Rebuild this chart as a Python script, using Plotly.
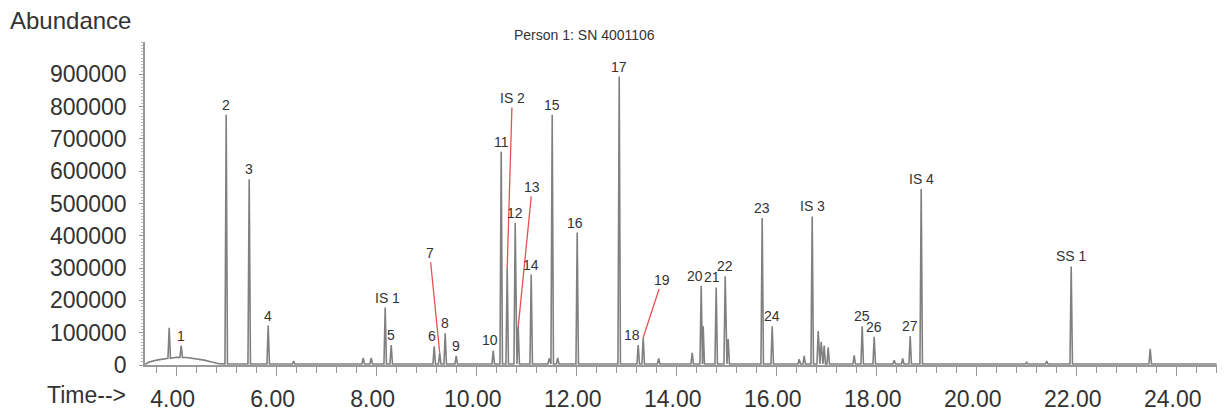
import numpy as np
import plotly.graph_objects as go

# Chromatogram peak table: retention time (min), apex abundance, compound label
peak_times = [3.85, 4.09, 4.99, 5.45, 5.83, 6.34, 7.73, 7.89, 8.17, 8.29,
              9.15, 9.26, 9.37, 9.59, 10.33, 10.49, 10.61, 10.77, 10.83, 11.09,
              11.45, 11.51, 11.62, 12.01, 12.85, 13.23, 13.33, 13.64, 14.31, 14.49,
              14.53, 14.79, 14.97, 15.03, 15.71, 15.91, 16.45, 16.55, 16.71, 16.83,
              16.89, 16.95, 17.03, 17.55, 17.71, 17.95, 18.35, 18.52, 18.67, 18.89,
              21.00, 21.40, 21.89, 23.47]
peak_heights = [115000, 60000, 775000, 575000, 122000, 12000, 22000, 22000, 178000, 62000,
                58000, 38000, 98000, 28000, 45000, 660000, 300000, 440000, 118000, 280000,
                20000, 775000, 22000, 410000, 893000, 62000, 85000, 20000, 38000, 245000,
                120000, 240000, 275000, 80000, 455000, 120000, 18000, 28000, 460000, 105000,
                72000, 60000, 55000, 30000, 120000, 87000, 15000, 20000, 90000, 545000,
                8000, 12000, 305000, 50000]
peak_names = ["", "1", "2", "3", "4", "", "", "", "IS 1", "5",
              "6", "7", "8", "9", "10", "11", "IS 2", "12", "13", "14",
              "", "15", "", "16", "17", "18", "19", "", "", "20",
              "", "21", "22", "", "23", "24", "", "", "IS 3", "",
              "", "", "", "", "25", "26", "", "", "27", "IS 4",
              "", "", "SS 1", ""]

# Baseline drift of the run (solvent hump at the start, then flat)
baseline_times = [3.37, 3.45, 3.60, 3.80, 4.00, 4.20, 4.40, 4.55, 4.70, 4.85, 5.20, 24.80]
baseline_values = [2000, 9000, 15000, 20000, 24000, 23000, 19000, 15000, 9000, 4000, 3000, 3000]

# Abundance axis tick values
y_ticks = [0, 100000, 200000, 300000, 400000, 500000, 600000, 700000, 800000, 900000]

title_text = "Person 1: SN 4001106"

# Peak labels tied to a red leader line: (dx, dy) pixel offset of the label
leader_offsets = {"7": (-10, -100), "IS 2": (5, -170), "13": (14, -140), "19": (19, -58)}
# Small horizontal nudges for crowded labels
label_nudge = {"20": -6, "21": -4, "18": -6, "10": -3, "6": -2, "16": -2, "IS 1": 2}

FONT = "Liberation Sans, Arial, Helvetica, sans-serif"
TRACE = "#808080"
TEXT = "#333333"

# Build the trace: baseline with a narrow spike at each retention time
half_w = 0.025
t_pts = list(baseline_times)
v_pts = list(baseline_values)
for t, h in zip(peak_times, peak_heights):
    b = float(np.interp(t, baseline_times, baseline_values))
    t_pts += [t - half_w, t, t + half_w]
    v_pts += [b, max(h, b), b]
order = np.argsort(t_pts, kind="stable")
t_arr = np.array(t_pts)[order]
v_arr = np.array(v_pts)[order]

fig = go.Figure()
fig.add_trace(go.Scatter(x=t_arr, y=v_arr, mode="lines",
                         line=dict(color=TRACE, width=1.6), hoverinfo="skip"))

annotations = []
for t, h, name in zip(peak_times, peak_heights, peak_names):
    if not name:
        continue
    if name in leader_offsets:
        dx, dy = leader_offsets[name]
        annotations.append(dict(x=t, y=h, xref="x", yref="y", text=name,
                                showarrow=True, arrowhead=0, arrowwidth=1.3,
                                arrowcolor="#e8504f", ax=dx, ay=dy, standoff=0,
                                font=dict(family=FONT, size=14, color=TEXT)))
    else:
        annotations.append(dict(x=t, y=h, xref="x", yref="y", text=name,
                                showarrow=False, yanchor="bottom", yshift=0,
                                xshift=label_nudge.get(name, 0),
                                font=dict(family=FONT, size=14, color=TEXT)))

annotations.append(dict(x=-0.128, y=1.068, xref="paper", yref="paper", text="Abundance",
                        showarrow=False, xanchor="left", yanchor="middle",
                        font=dict(family=FONT, size=24, color=TEXT)))
annotations.append(dict(x=-0.016, y=-0.093, xref="paper", yref="paper", text="Time-->",
                        showarrow=False, xanchor="right", yanchor="middle",
                        font=dict(family=FONT, size=23, color=TEXT)))
annotations.append(dict(x=0.41, y=1.022, xref="paper", yref="paper", text=title_text,
                        showarrow=False, xanchor="center", yanchor="middle",
                        font=dict(family=FONT, size=14, color=TEXT)))

fig.update_layout(
    width=1225, height=413,
    margin=dict(l=145, r=8, t=42, b=48, autoexpand=False),
    paper_bgcolor="white", plot_bgcolor="white",
    showlegend=False,
    annotations=annotations,
    xaxis=dict(range=[3.366, 24.806], tickmode="linear", tick0=0, dtick=2,
               tickformat=".2f", ticks="outside", ticklen=9, tickwidth=1,
               tickcolor="#999999", showline=True, linecolor="#999999", linewidth=1.5,
               showgrid=False, zeroline=False, ticklabelshift=-4, ticklabelstandoff=4,
               automargin=False,
               tickfont=dict(family=FONT, size=23, color=TEXT),
               minor=dict(tickmode="linear", tick0=0, dtick=0.4, ticks="outside",
                          ticklen=6, tickcolor="#999999", showgrid=False)),
    yaxis=dict(range=[0, 1000000], tickmode="array", tickvals=y_ticks,
               ticktext=[str(v) for v in y_ticks],
               ticks="outside", ticklen=4, tickwidth=1,
               tickcolor="#999999", showline=True, linecolor="#999999", linewidth=1.5,
               showgrid=False, zeroline=False, ticklabelstandoff=8, automargin=False,
               tickfont=dict(family=FONT, size=23, color=TEXT),
               minor=dict(tickmode="linear", tick0=0, dtick=10000, ticks="outside",
                          ticklen=2, tickcolor="#bbbbbb", showgrid=False)),
)

fig.write_html("out.html")
